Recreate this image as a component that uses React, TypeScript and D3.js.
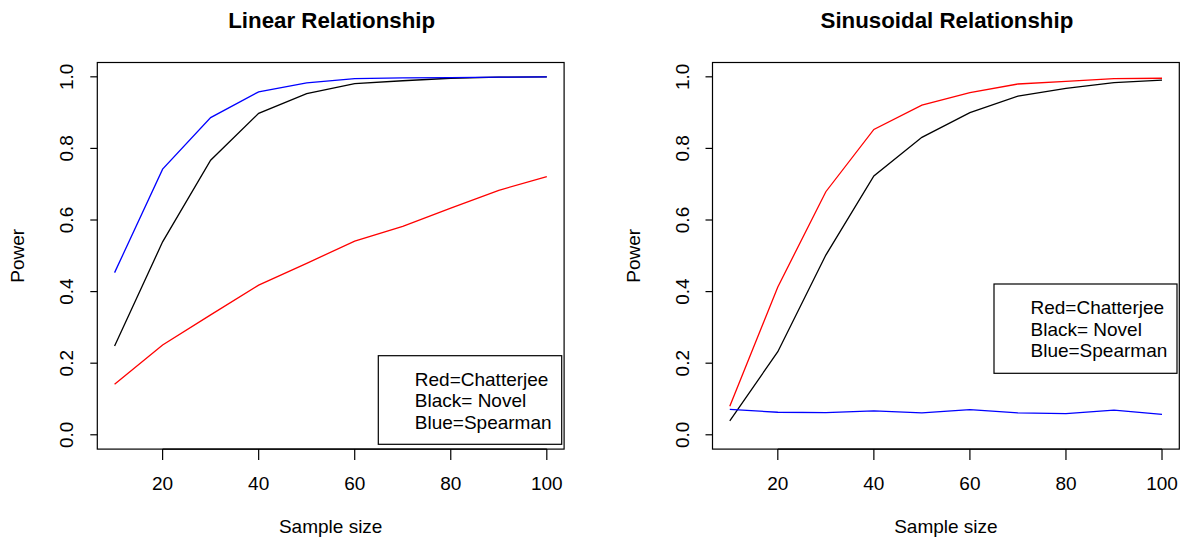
import React from 'react';
import * as d3 from 'd3';

// sample sizes on x axis
const sampleSizes = [10, 20, 30, 40, 50, 60, 70, 80, 90, 100];

// linear relationship panel
const linearChatterjee = [0.141, 0.251, 0.335, 0.418, 0.479, 0.541, 0.582, 0.633, 0.683, 0.721];
const linearNovel = [0.248, 0.539, 0.767, 0.898, 0.953, 0.981, 0.989, 0.996, 0.999, 1.0];
const linearSpearman = [0.453, 0.742, 0.886, 0.958, 0.983, 0.995, 0.997, 0.998, 0.999, 1.0];

// sinusoidal relationship panel
const sinChatterjee = [0.08, 0.413, 0.679, 0.853, 0.921, 0.956, 0.98, 0.987, 0.995, 0.996];
const sinNovel = [0.039, 0.232, 0.502, 0.723, 0.831, 0.9, 0.946, 0.968, 0.984, 0.991];
const sinSpearman = [0.071, 0.063, 0.062, 0.067, 0.061, 0.07, 0.061, 0.059, 0.069, 0.057];

const xTicks = [20, 40, 60, 80, 100];
const yTicks = [0, 0.2, 0.4, 0.6, 0.8, 1.0];
const legendLabels = ['Red=Chatterjee', 'Black= Novel', 'Blue=Spearman'];

const FONT = '"Liberation Sans", Arial, Helvetica, sans-serif';
const FS = 19;

type PanelProps = {
  left: number;
  title: string;
  red: number[];
  black: number[];
  blue: number[];
  legend: { x: number; y: number; w: number; h: number };
};

const Panel = ({ left, title, red, black, blue, legend }: PanelProps) => {
  const top = 62.5;
  const width = 466.8;
  const height = 386.6;
  // R style 4% padding around the data range
  const x = d3.scaleLinear().domain([6.4, 103.6]).range([left, left + width]);
  const y = d3.scaleLinear().domain([-0.04, 1.04]).range([top + height, top]);

  const line = d3
    .line<number>()
    .x((_, i) => x(sampleSizes[i]))
    .y((d) => y(d));

  const cx = left + width / 2;

  return (
    <g>
      <text x={cx + 1} y={28} textAnchor="middle" fontSize={22.3} fontWeight="bold" fontFamily={FONT}>
        {title}
      </text>
      <rect x={left} y={top} width={width} height={height} fill="none" stroke="#000" strokeWidth={1.2} />
      {/* x axis */}
      <line x1={x(20)} x2={x(100)} y1={top + height} y2={top + height} stroke="#000" strokeWidth={1.2} />
      {xTicks.map((t) => (
        <g key={t}>
          <line x1={x(t)} x2={x(t)} y1={top + height} y2={top + height + 11} stroke="#000" strokeWidth={1.2} />
          <text x={x(t)} y={490} textAnchor="middle" fontSize={FS} fontFamily={FONT}>
            {t}
          </text>
        </g>
      ))}
      {/* y axis */}
      {yTicks.map((t) => (
        <g key={t}>
          <line x1={left - 7} x2={left} y1={y(t)} y2={y(t)} stroke="#000" strokeWidth={1.2} />
          <text
            transform={`translate(${left - 24},${y(t)}) rotate(-90)`}
            textAnchor="middle"
            fontSize={FS}
            fontFamily={FONT}
          >
            {t.toFixed(1)}
          </text>
        </g>
      ))}
      <text x={cx} y={533} textAnchor="middle" fontSize={FS} fontFamily={FONT}>
        Sample size
      </text>
      <text
        transform={`translate(${left - 73},${top + height / 2}) rotate(-90)`}
        textAnchor="middle"
        fontSize={FS}
        fontFamily={FONT}
      >
        Power
      </text>
      {/* series */}
      <path d={line(red) || ''} fill="none" stroke="#ff0000" strokeWidth={1.3} />
      <path d={line(black) || ''} fill="none" stroke="#000000" strokeWidth={1.3} />
      <path d={line(blue) || ''} fill="none" stroke="#0000ff" strokeWidth={1.3} />
      {/* legend */}
      <rect x={legend.x} y={legend.y} width={legend.w} height={legend.h} fill="#fff" stroke="#000" strokeWidth={1.2} />
      {legendLabels.map((l, i) => (
        <text key={l} x={legend.x + 36.5} y={legend.y + 30 + i * 21.7} fontSize={FS} fontFamily={FONT}>
          {l}
        </text>
      ))}
    </g>
  );
};

export default function App() {
  return (
    <svg
      width={1184}
      height={542}
      style={{ position: 'absolute', left: 0, top: 0, background: '#fff' }}
    >
      <rect width={1184} height={542} fill="#fff" />
      <Panel
        left={97.3}
        title="Linear Relationship"
        red={linearChatterjee}
        black={linearNovel}
        blue={linearSpearman}
        legend={{ x: 378.3, y: 355.7, w: 183.4, h: 88.6 }}
      />
      <Panel
        left={712.5}
        title="Sinusoidal Relationship"
        red={sinChatterjee}
        black={sinNovel}
        blue={sinSpearman}
        legend={{ x: 994, y: 284, w: 183, h: 89.3 }}
      />
    </svg>
  );
}
